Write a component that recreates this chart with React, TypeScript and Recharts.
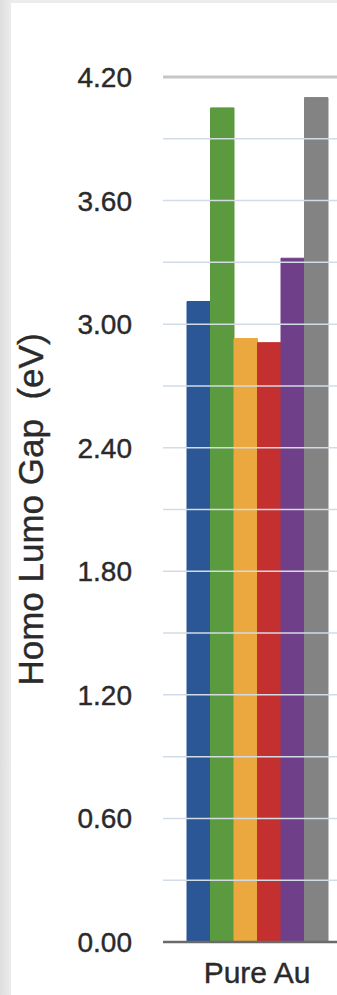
import { BarChart, Bar, XAxis, YAxis, ReferenceLine } from "recharts";

// HOMO-LUMO gap (eV) per series for each cluster
const categories = ["Pure Au"];
const seriesKeys = ["s1", "s2", "s3", "s4", "s5", "s6"];
const gapValues = [[3.11, 4.05, 2.93, 2.91, 3.32, 4.1]];

const yTicks = [0, 0.6, 1.2, 1.8, 2.4, 3.0, 3.6, 4.2];
const gridTicks = [0.3, 0.6, 0.9, 1.2, 1.5, 1.8, 2.1, 2.4, 2.7, 3.0, 3.3, 3.6, 3.9];

const SERIES_COLORS = ["#2b5796", "#5b9a3f", "#eba83f", "#c4302f", "#703f8a", "#838383"];
const FONT = "'Liberation Sans', Arial, Helvetica, sans-serif";
const TEXT_COLOR = "#2a2a2a";

const chartData = categories.map((category, i) => {
  const row: Record<string, string | number> = { category };
  seriesKeys.forEach((key, j) => {
    row[key] = gapValues[i][j];
  });
  return row;
});

interface TitleProps {
  viewBox?: { x: number; y: number; width: number; height: number };
}

function YTitle({ viewBox }: TitleProps) {
  if (!viewBox) return null;
  const x = 32;
  const y = viewBox.y + viewBox.height / 2;
  return (
    <text
      x={x}
      y={y}
      transform={`rotate(-90 ${x} ${y})`}
      textAnchor="middle"
      fontFamily={FONT}
      fontSize={35}
      fill={TEXT_COLOR}
      stroke={TEXT_COLOR}
      strokeWidth={0.4}
      style={{ whiteSpace: "pre" }}
    >
      Homo Lumo Gap  (eV)
    </text>
  );
}

export default function App() {
  return (
    <div
      style={{
        position: "relative",
        width: 337,
        height: 995,
        overflow: "hidden",
        background: "linear-gradient(to right, #dedede, #ececec 11px)",
      }}
    >
      <style>{"body{margin:0}"}</style>
      <div
        style={{
          position: "absolute",
          left: 11,
          top: 3,
          width: 360,
          height: 992,
          background: "#ffffff",
        }}
      >
        <BarChart
          width={340}
          height={992}
          data={chartData}
          margin={{ top: 74, right: 0, bottom: 0, left: 0 }}
          barGap={0}
          barSize={23.5}
        >
          <XAxis
            dataKey="category"
            height={53}
            axisLine={{ stroke: "#6a6a6a", strokeWidth: 2.5 }}
            tickLine={false}
            tickMargin={14}
            tick={{ fontFamily: FONT, fontSize: 30, fill: TEXT_COLOR, stroke: TEXT_COLOR, strokeWidth: 0.4 }}
          />
          <YAxis
            yAxisId="gap"
            domain={[0, 4.2]}
            ticks={yTicks}
            width={152}
            axisLine={false}
            tickLine={false}
            tickMargin={25}
            tickFormatter={(v: number) => v.toFixed(2)}
            tick={{ fontFamily: FONT, fontSize: 28, fill: TEXT_COLOR, stroke: TEXT_COLOR, strokeWidth: 0.4 }}
            label={<YTitle />}
          />
          {/* light grid every 0.3 eV */}
          {gridTicks.map((t) => (
            <ReferenceLine key={t} yAxisId="gap" y={t} stroke="#d3dbe4" strokeWidth={1.5} />
          ))}
          <ReferenceLine yAxisId="gap" y={4.2} stroke="#c6c6c6" strokeWidth={3} />
          {/* same-colour stroke closes the hairline seams between adjacent bars */}
          {seriesKeys.map((key, i) => (
            <Bar
              key={key}
              yAxisId="gap"
              dataKey={key}
              fill={SERIES_COLORS[i]}
              stroke={SERIES_COLORS[i]}
              strokeWidth={1}
              isAnimationActive={false}
            />
          ))}
        </BarChart>
      </div>
    </div>
  );
}
